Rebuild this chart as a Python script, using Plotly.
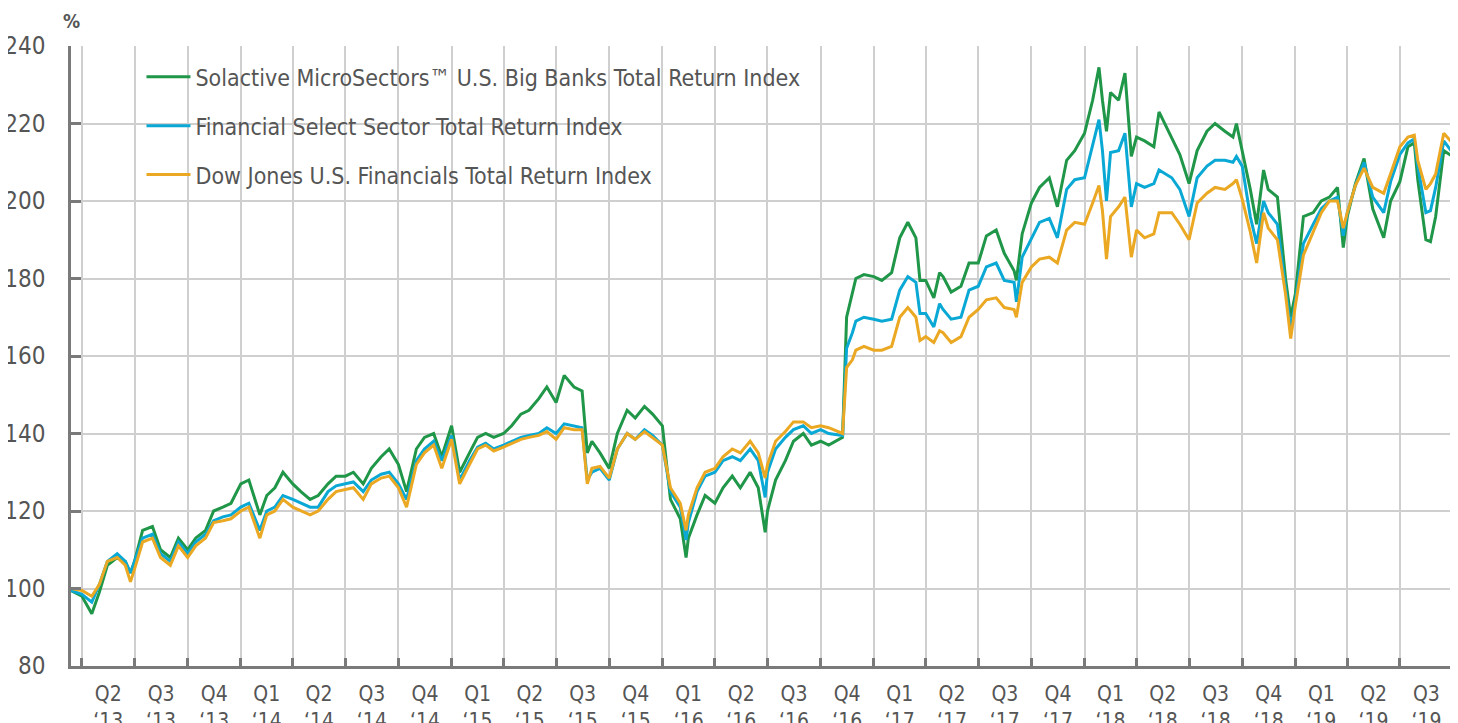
import pandas as pd
import plotly.graph_objects as go

dates = ["2013-03-13","2013-04-01","2013-04-18","2013-05-01","2013-05-15","2013-06-01","2013-06-15","2013-06-24",
"2013-07-01","2013-07-15","2013-08-01","2013-08-15","2013-09-01","2013-09-15","2013-10-01","2013-10-15",
"2013-11-01","2013-11-15","2013-12-01","2013-12-15","2014-01-01","2014-01-15","2014-02-03","2014-02-15",
"2014-03-01","2014-03-15","2014-04-01","2014-04-15","2014-05-01","2014-05-15","2014-06-01","2014-06-15",
"2014-07-01","2014-07-15","2014-08-01","2014-08-15","2014-09-01","2014-09-15","2014-10-01","2014-10-15",
"2014-11-01","2014-11-15","2014-12-01","2014-12-15","2015-01-01","2015-01-15","2015-02-01","2015-02-15",
"2015-03-01","2015-03-15","2015-04-01","2015-04-15","2015-05-01","2015-05-15","2015-06-01","2015-06-15",
"2015-07-01","2015-07-15","2015-08-01","2015-08-15","2015-08-24","2015-09-01","2015-09-15","2015-10-01",
"2015-10-15","2015-11-01","2015-11-15","2015-12-01","2015-12-15","2016-01-01","2016-01-15","2016-02-01",
"2016-02-11","2016-02-15","2016-03-01","2016-03-15","2016-04-01","2016-04-15","2016-05-01","2016-05-15",
"2016-06-01","2016-06-15","2016-06-27","2016-07-01","2016-07-15","2016-08-01","2016-08-15","2016-09-01",
"2016-09-15","2016-10-01","2016-10-15","2016-11-08","2016-11-15","2016-11-25","2016-12-01","2016-12-15",
"2017-01-01","2017-01-15","2017-02-01","2017-02-15","2017-03-01","2017-03-15","2017-03-22","2017-04-01",
"2017-04-15","2017-04-25","2017-05-01","2017-05-15","2017-06-01","2017-06-15","2017-07-01","2017-07-15",
"2017-08-01","2017-08-15","2017-09-01","2017-09-05","2017-09-15","2017-10-01","2017-10-15","2017-11-01",
"2017-11-15","2017-12-01","2017-12-15","2018-01-01","2018-01-15","2018-01-26","2018-02-01","2018-02-08",
"2018-02-15","2018-03-01","2018-03-12","2018-03-23","2018-04-01","2018-04-15","2018-05-01","2018-05-10",
"2018-06-01","2018-06-15","2018-07-01","2018-07-15","2018-08-01","2018-08-15","2018-09-01","2018-09-15",
"2018-09-21","2018-10-01","2018-10-15","2018-10-26","2018-11-07","2018-11-15","2018-12-01","2018-12-15",
"2018-12-24","2019-01-01","2019-01-15","2019-02-01","2019-02-15","2019-03-01","2019-03-15","2019-03-25",
"2019-04-01","2019-04-15","2019-04-30","2019-05-15","2019-06-03","2019-06-15","2019-07-01","2019-07-15",
"2019-07-26","2019-08-01","2019-08-15","2019-08-23","2019-09-01","2019-09-15","2019-09-30"]

big_banks = [99.5,98,93.5,99,106,108,107,104,
107,115,116,110,108,113,110,113,
115,120,121,122,127,128,119,124,
126,130,127,125,123,124,127,129,
129,130,127,131,134,136,132,125,
136,139,140,134,142,130,135,139,
140,139,140,142,145,146,149,152,
148,155,152,151,135,138,135,131,
140,146,144,147,145,142,123,118,
108,113,119,124,122,126,129,126,
130,126,114.5,120,128,133,138,140,
137,138,137,139,170,176,180,181,
180.5,179.5,181.5,190.5,194.5,190.5,179.5,179.5,
175,181.5,180.5,176.5,178,184,184,191,
192.5,186.5,182,179.5,191.5,199.5,203.5,206,
198.5,210.5,213,217.5,226,234.5,226,218,
228,226,233,211.5,216.5,215.5,214,223,
216.5,212,204.5,213,218,220,218,216.5,
220,213,203,194,208,203,201,180,
170,176,196,197,200,201,203.5,188,
196,204.5,211,198,190.5,200,205,214,
215,205.5,190,189.5,196,213,211.5]

financial_select = [99.5,98.5,96.5,101,107,109,107,104,
107,113,114,109,107,112,109,112,
114,117.5,118.5,119,121,122,115,120,
121,124,123,122,121,121,125,126.5,
127,127.5,125,128,129.5,130,127,123,
133,136,138,133,139.5,128,133,136.5,
137.5,136,137,138,139,139.5,140,141.5,
140,142.5,142,141.5,128,130,131,128,
136,140,138.5,141,139.5,137,125,121,
112.5,117,125,129,130,133,134,133,
136,133,123.5,130,136,139,141,142,
140,141,140,139.5,162,166,169,170,
169.5,169,169.5,177,180.5,179,171,171,
167.5,173.5,172,169.5,170,177,178,183,
184,179.5,179,174,185.5,190.5,194.5,195.5,
190.5,203,205.5,206,214,221,213,200,
212.5,213,217.5,198.5,204.5,203.5,204.5,208,
206,203,196,206,209,210.5,210.5,210,
211.5,209,196,189,200,197,194,178,
167,174,189,194,198,200,201,191,
197,204,210,201,197,205,212,215,
216,209,197,197.5,203.5,215.5,212.5]

dow_jones_fin = [100,99.5,98,101,107,108,106,101.7,
105,112,113,108,106,111,108,111,
113,117,117.5,118,120,121,113,119,
120,123,121,120,119,120,123,125,
125.5,126,123,127,128.5,129,126,121,
132,135,137,131,138.5,127,132,136,
137,135.5,136.5,137.5,138.5,139,139.5,140.5,
138.5,141.5,141,141,127,131,131.5,128.5,
136,140,138.5,140.5,139,137,126,122,
115,119,126,130,131,134,136,135,
138,135,128.5,132,138,140.5,143,143,
141.5,142,141.5,140,157,159,161.5,162.5,
161.5,161.5,162.5,170,172.5,170,164,165,
163.5,166.5,166,163.5,165,170,172,174.5,
175,172.5,172,170,179,183,185,185.5,
184,192.5,194.5,194,199.5,204,197.5,185,
196,198.5,201,185.5,192.5,190.5,191.5,197,
197,194,190,199.5,202,203.5,203,204.5,
205.5,200.5,192,184,197,193,190,176,
164.5,173,186,192,197,200,200,193,
197,204,208.5,203.5,202,207,214,216.5,
217,210.5,203,204.5,207,217.5,215]

series_names = ["Solactive MicroSectors™ U.S. Big Banks Total Return Index",
                "Financial Select Sector Total Return Index",
                "Dow Jones U.S. Financials Total Return Index"]
series_colors = ["#1f9648", "#0aa8d4", "#eba823"]

y_ticks = [80, 100, 120, 140, 160, 180, 200, 220, 240]

q_starts = pd.date_range("2013-04-01", "2019-10-01", freq="QS")
q_mids = [q_starts[i] + (q_starts[i + 1] - q_starts[i]) / 2 for i in range(len(q_starts) - 1)]
q_labels = ["Q%d<br>\u2018%02d" % ((d.month - 1) // 3 + 1, d.year % 100) for d in q_starts[:-1]]

FONT = "Liberation Sans Narrow, Arial Narrow, DejaVu Sans Condensed, sans-serif"
TXT = "#555555"

fig = go.Figure()
for name, vals, col in zip(series_names, [big_banks, financial_select, dow_jones_fin], series_colors):
    fig.add_trace(go.Scatter(x=pd.to_datetime(dates), y=vals, mode="lines", name=name,
                             legendgroup=name, line=dict(color=col, width=3)))

fig.update_layout(
    width=1450, height=715,
    margin=dict(l=63, r=5, t=38, b=57, autoexpand=False),
    paper_bgcolor="white", plot_bgcolor="white",
    font=dict(family=FONT, size=23, color=TXT),
    showlegend=True,
    legend=dict(x=0.051, y=0.985, xanchor="left", yanchor="top", bgcolor="rgba(0,0,0,0)",
                font=dict(family=FONT, size=23, color=TXT), tracegroupgap=16, itemwidth=44),
    annotations=[dict(text="<b>%</b>", x=0, y=1, xref="paper", yref="paper", xanchor="center",
                      yanchor="bottom", yshift=12, showarrow=False,
                      font=dict(family=FONT, size=19, color=TXT))],
)
fig.update_xaxes(
    type="date", range=["2013-03-13", "2019-10-01"], automargin=False,
    tickvals=q_mids, ticktext=q_labels, ticks="", showgrid=False,
    showline=True, linecolor="#7a7a7a", linewidth=2.5,
    tickfont=dict(family=FONT, size=21, color=TXT), ticklabelstandoff=7,
    minor=dict(tickvals=list(q_starts), ticks="inside", ticklen=8, tickwidth=2.5,
               tickcolor="#7a7a7a", showgrid=True, gridcolor="#cfcfcf", gridwidth=1.5),
    zeroline=False,
)
fig.update_yaxes(
    range=[80, 240], tickvals=y_ticks, showgrid=True, gridcolor="#cfcfcf", gridwidth=1.5,
    showline=True, linecolor="#7a7a7a", linewidth=2.5, automargin=False,
    ticks="inside", ticklen=10, tickwidth=2.5, tickcolor="#7a7a7a",
    tickfont=dict(family=FONT, size=24, color=TXT), ticklabelstandoff=18,
    zeroline=False,
)
fig.write_html("out.html")
